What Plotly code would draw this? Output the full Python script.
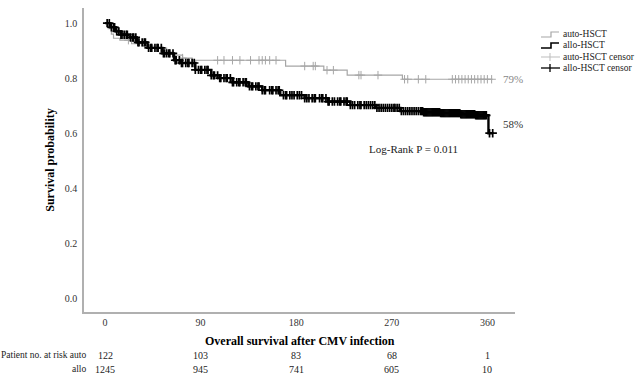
import numpy as np
import plotly.graph_objects as go

# ---- data ----
auto_days = [0, 3, 6, 8, 14, 25, 35, 45, 58, 64, 73, 82, 170, 206, 228, 280, 365]
auto_surv = [1.0, 0.98, 0.96, 0.945, 0.938, 0.925, 0.917, 0.909, 0.895, 0.884, 0.873,
             0.865, 0.844, 0.829, 0.811, 0.796, 0.796]

allo_days = [0, 5, 10, 15, 22, 30, 40, 54, 65, 71, 85, 100, 108, 120, 135, 148, 165,
             188, 210, 231, 255, 278, 300, 316, 335, 349, 361, 365]
allo_surv = [1.0, 0.985, 0.97, 0.958, 0.948, 0.93, 0.91, 0.89, 0.865, 0.855, 0.83, 0.81,
             0.80, 0.785, 0.77, 0.756, 0.738, 0.727, 0.715, 0.702, 0.692, 0.68, 0.676,
             0.673, 0.669, 0.665, 0.60, 0.60]

auto_censor = [22, 73, 106, 112, 120, 127, 137, 145, 148, 151, 155, 161, 188, 196, 198,
               209, 215, 239, 241, 257, 282, 285, 295, 302, 327, 330, 333, 336, 339, 342,
               345, 348, 351, 354, 357, 360, 364]

allo_censor = [2, 4, 6, 8, 9, 11, 13, 15, 16, 18, 20, 21, 24, 26, 27, 29, 31, 32, 35, 37,
               38, 41, 43, 44, 47, 49, 50, 53, 55, 56, 58, 60, 61, 64, 66, 67, 70, 72, 73,
               76, 78, 79, 82, 84, 85, 88, 90, 91, 94, 96, 97, 100, 102, 103, 106, 108,
               109, 112, 114, 115, 118, 120, 121, 124, 126, 127, 130, 132, 133, 136, 138,
               139, 142, 144, 145, 148, 150, 151, 155, 157, 158, 161, 163, 164, 168, 170,
               171, 174, 176, 178, 181, 183, 185, 188, 190, 192, 195, 197, 198, 202, 204,
               205, 208, 210, 211, 214, 216, 219, 221, 222, 225, 227, 228, 231, 233, 235,
               238, 240, 241, 244, 246, 248, 250, 252, 254, 256, 258, 260, 262, 264, 266,
               268, 270, 272, 273, 275, 277, 279, 281, 283, 285, 287, 289, 291, 293, 295,
               297, 298, 299, 300, 301, 302, 303, 304, 305, 306, 307, 308, 309, 310, 311,
               312, 313, 314, 315, 316, 317, 318, 319, 320, 321, 322, 323, 324, 325, 326,
               327, 328, 329, 330, 331, 332, 333, 334, 335, 336, 337, 338, 339, 340, 341,
               342, 343, 344, 345, 346, 347, 348, 349, 350, 351, 352, 353, 354, 355, 356,
               357, 358, 359, 362, 365]

x_ticks = [0, 90, 180, 270, 360]
risk_auto = [122, 103, 83, 68, 1]
risk_allo = [1245, 945, 741, 605, 10]
end_labels = {"auto": "79%", "allo": "58%"}
logrank_text = "Log-Rank P = 0.011"


def step_lookup(days, surv, t):
    idx = np.searchsorted(np.array(days), np.array(t), side="right") - 1
    return [surv[i] for i in idx]


FONT = "Liberation Serif"
GRAY = "#a6a6a6"
LGRAY = "#bdbdbd"

fig = go.Figure()
fig.add_trace(go.Scatter(x=auto_days, y=auto_surv, mode="lines", line_shape="hv",
                         line=dict(color=GRAY, width=1.2), name="auto-HSCT"))
fig.add_trace(go.Scatter(x=allo_days, y=allo_surv, mode="lines", line_shape="hv",
                         line=dict(color="black", width=2.4), name="allo-HSCT"))
fig.add_trace(go.Scatter(x=auto_censor, y=step_lookup(auto_days, auto_surv, auto_censor),
                         mode="markers", name="auto-HSCT censor",
                         marker=dict(symbol="cross-thin", size=6,
                                     line=dict(color=GRAY, width=1))))
fig.add_trace(go.Scatter(x=allo_censor, y=step_lookup(allo_days, allo_surv, allo_censor),
                         mode="markers", name="allo-HSCT censor",
                         marker=dict(symbol="cross-thin", size=6,
                                     line=dict(color="black", width=1.7))))

W, H = 637, 378
L, R, T, B = 84, 515, 8, 312


def px(x):
    return (x - L) / (R - L)


def py(y):
    return (B - y) / (B - T)


annotations = []
# x-axis title
annotations.append(dict(x=0.5, y=py(341), xref="paper", yref="paper", xanchor="center",
                        yanchor="middle", text="<b>Overall survival after CMV infection</b>",
                        showarrow=False, font=dict(family=FONT, size=12, color="black")))
# at-risk table
for d, a, b in zip(x_ticks, risk_auto, risk_allo):
    annotations.append(dict(x=d, y=py(355), xref="x", yref="paper", text=str(a),
                            xanchor="center", yanchor="middle",
                            showarrow=False, font=dict(family=FONT, size=10, color="#222")))
    annotations.append(dict(x=d, y=py(369), xref="x", yref="paper", text=str(b),
                            xanchor="center", yanchor="middle",
                            showarrow=False, font=dict(family=FONT, size=10, color="#222")))
annotations.append(dict(x=px(88), y=py(355), xref="paper", yref="paper", xanchor="right",
                        yanchor="middle", text="Patient no. at risk auto", showarrow=False,
                        font=dict(family=FONT, size=9.5, color="#222")))
annotations.append(dict(x=px(88), y=py(369), xref="paper", yref="paper", xanchor="right",
                        yanchor="middle", text="allo", showarrow=False,
                        font=dict(family=FONT, size=9.5, color="#222")))
# end labels
annotations.append(dict(x=px(501), y=auto_surv[-1], xref="paper", yref="y", xanchor="left",
                        yanchor="middle", text=end_labels["auto"], showarrow=False,
                        font=dict(family=FONT, size=11, color="#888")))
annotations.append(dict(x=px(501), y=0.633, xref="paper", yref="y", xanchor="left",
                        yanchor="middle", text=end_labels["allo"], showarrow=False,
                        font=dict(family=FONT, size=11, color="#333")))
annotations.append(dict(x=290, y=0.542, xref="x", yref="y", text=logrank_text,
                        xanchor="center", yanchor="middle",
                        showarrow=False, font=dict(family=FONT, size=11, color="#222")))

# manual legend
leg_items = [("auto-HSCT", GRAY, 34, "step", 1.2),
             ("allo-HSCT", "black", 45, "step", 1.6),
             ("auto-HSCT censor", LGRAY, 57, "cross", 1),
             ("allo-HSCT censor", "black", 68, "cross", 1.3)]
shapes = []
for name, col, yc, kind, w in leg_items:
    annotations.append(dict(x=px(561), y=py(yc), xref="paper", yref="paper", xanchor="left",
                            yanchor="middle", text=name, showarrow=False,
                            font=dict(family=FONT, size=9.5, color="#222")))
    if kind == "step":
        path = "M {:.4f},{:.4f} L {:.4f},{:.4f} L {:.4f},{:.4f} L {:.4f},{:.4f}".format(
            px(541), py(yc + 3), px(551), py(yc + 3), px(551), py(yc - 2), px(559), py(yc - 2))
        shapes.append(dict(type="path", xref="paper", yref="paper", path=path,
                           line=dict(color=col, width=w)))
    else:
        shapes.append(dict(type="line", xref="paper", yref="paper", x0=px(541), x1=px(560),
                           y0=py(yc), y1=py(yc), line=dict(color=col, width=w)))
        shapes.append(dict(type="line", xref="paper", yref="paper", x0=px(550), x1=px(550),
                           y0=py(yc - 4), y1=py(yc + 4), line=dict(color=col, width=w)))

fig.update_layout(
    width=W, height=H,
    margin=dict(l=L, r=W - R, t=T, b=H - B, autoexpand=False),
    plot_bgcolor="white", paper_bgcolor="white",
    showlegend=False,
    font=dict(family=FONT, color="#222"),
    annotations=annotations, shapes=shapes,
    xaxis=dict(range=[-19.8, 386], tickvals=x_ticks, showgrid=False, zeroline=False,
               showline=True, linecolor="#b0b0b0", linewidth=1.5,
               ticks="", tickfont=dict(family=FONT, size=10, color="#333")),
    yaxis=dict(range=[-0.05, 1.055], tickvals=[0, 0.2, 0.4, 0.6, 0.8, 1.0],
               tickformat=".1f", showgrid=False, zeroline=False,
               showline=True, linecolor="#b0b0b0", linewidth=1.5,
               ticks="outside", ticklen=3, tickcolor="rgba(0,0,0,0)",
               tickfont=dict(family=FONT, size=10, color="#333"),
               title=dict(text="<b>Survival probability</b>",
                          font=dict(family=FONT, size=12, color="black"), standoff=8)),
)

fig.write_html("out.html")
